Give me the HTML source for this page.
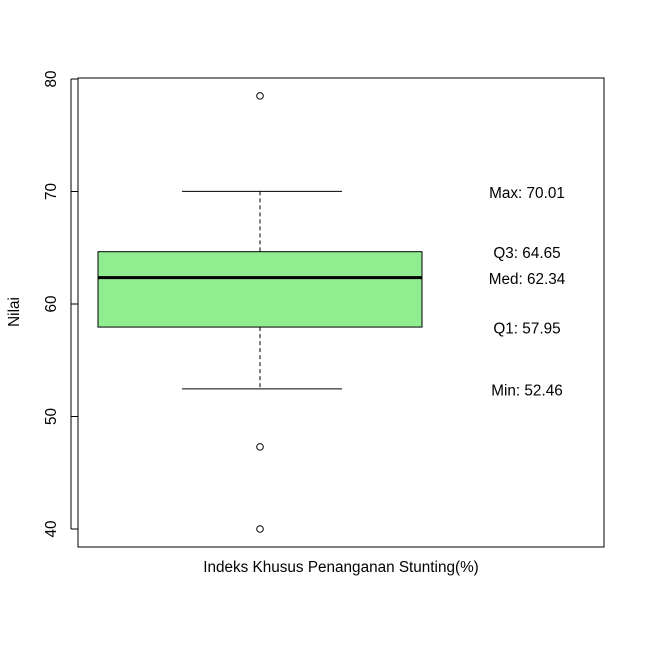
<!DOCTYPE html>
<html><head><meta charset="utf-8">
<style>
html,body{margin:0;padding:0;background:#fff;}
svg text{font-family:"Liberation Sans",Arial,sans-serif;fill:#000;}
</style></head>
<body>
<svg id="chart" width="645" height="645" viewBox="0 0 645 645" xmlns="http://www.w3.org/2000/svg">
<rect x="0" y="0" width="645" height="645" fill="#fff"/>
</svg>
<script>
const statNames = ["Max","Q3","Med","Q1","Min"];
const statValues = [70.01, 64.65, 62.34, 57.95, 52.46];
const outliers = [78.5, 47.3, 40.0];
const yTicks = [40, 50, 60, 70, 80];
const xLabel = "Indeks Khusus Penanganan Stunting(%)";
const yLabel = "Nilai";

const NS = "http://www.w3.org/2000/svg";
const svg = document.getElementById("chart");
const plot = {l:78, r:604, t:78, b:547};
const FS = "15.3";
function y(v){ return 79 + (80 - v) * 11.25; }
function el(tag, attrs, parent){
  const e = document.createElementNS(NS, tag);
  for (const k in attrs) e.setAttribute(k, attrs[k]);
  (parent||svg).appendChild(e);
  return e;
}
const cx = 260, bl = 98, br = 422, wl = 182, wr = 342;
const [mx, q3, med, q1, mn] = statValues;

let f = el("rect",{x:plot.l,y:plot.t,width:plot.r-plot.l,height:plot.b-plot.t,fill:"none",stroke:"#000","stroke-width":1});



let w1 = el("line",{x1:cx,x2:cx,y1:y(mx),y2:y(q3),stroke:"#000","stroke-dasharray":"4,3"});


let w2 = el("line",{x1:cx,x2:cx,y1:y(q1),y2:y(mn),stroke:"#000","stroke-dasharray":"4,3"});


let c1 = el("line",{x1:wl,x2:wr,y1:y(mx),y2:y(mx),stroke:"#000"});


let c2 = el("line",{x1:wl,x2:wr,y1:y(mn),y2:y(mn),stroke:"#000"});



let box = el("rect",{x:bl,y:y(q3),width:br-bl,height:y(q1)-y(q3),fill:"#90ee90",stroke:"#000"});


let ml = el("line",{x1:bl,x2:br,y1:y(med),y2:y(med),stroke:"#000","stroke-width":3});



outliers.forEach(v=>{
  const c = el("circle",{cx:cx,cy:y(v),r:3.3,fill:"none",stroke:"#000"});
  
  
});

statNames.forEach((n,i)=>{
  const t = el("text",{x:527,y:y(statValues[i])+6.5,"text-anchor":"middle","font-size":FS});
  t.textContent = n + ": " + statValues[i].toFixed(2);
  
  
});

let ax = el("line",{x1:71,x2:71,y1:y(yTicks[0]),y2:y(yTicks[yTicks.length-1]),stroke:"#000"});


yTicks.forEach(v=>{
  const tk = el("line",{x1:71,x2:78,y1:y(v),y2:y(v),stroke:"#000"});
  
  
  const t = el("text",{x:0,y:0,"text-anchor":"middle","font-size":FS,transform:"translate(56,"+y(v)+") rotate(-90)"});
  t.textContent = v;
  
  
});

let yt = el("text",{x:0,y:0,"text-anchor":"middle","font-size":FS,transform:"translate(19,312) rotate(-90)"});
yt.textContent = yLabel;


let xt = el("text",{x:341,y:572,"text-anchor":"middle","font-size":FS});
xt.textContent = xLabel;


</script>
</body></html>
